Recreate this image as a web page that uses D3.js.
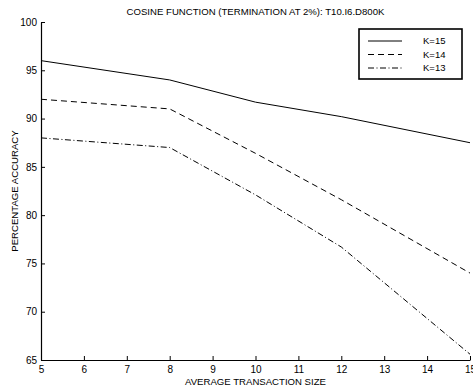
<!DOCTYPE html>
<html>
<head>
<meta charset="utf-8">
<script src="https://cdn.jsdelivr.net/npm/d3@7"></script>
<style>
  body { margin: 0; background: #fff; }
  svg { display: block; font-family: "Liberation Sans", Arial, sans-serif; }
</style>
</head>
<body>
<div id="chart"></div>
<script>
// transaction sizes on the x axis
const sizes = [5, 8, 10, 12, 15];
const k15 = [96.0, 94.0, 91.7, 90.2, 87.5];
const k14 = [92.0, 91.0, 86.4, 81.6, 74.0];
const k13 = [88.0, 87.0, 82.1, 76.7, 65.6];
const seriesNames = ["K=15", "K=14", "K=13"];
const xTicks = [5, 6, 7, 8, 9, 10, 11, 12, 13, 14, 15];
const yTicks = [65, 70, 75, 80, 85, 90, 95, 100];

const width = 473, height = 391;
const margin = { top: 22, right: 3, bottom: 31, left: 41 };

const svg = d3.select("#chart").append("svg")
  .attr("width", width)
  .attr("height", height);

const x = d3.scaleLinear().domain([5, 15]).range([margin.left, width - margin.right]);
const y = d3.scaleLinear().domain([65, 100]).range([height - margin.bottom, margin.top]);

// axes, ticks pointing inward like matlab
svg.append("g")
  .attr("transform", `translate(0,${height - margin.bottom})`)
  .call(d3.axisBottom(x).tickValues(xTicks).tickSize(-4).tickPadding(4).tickSizeOuter(0))
  .call(g => g.selectAll("text").attr("font-size", 10).attr("fill", "#000").attr("dy", "0.9em"));

svg.append("g")
  .attr("transform", `translate(${margin.left},0)`)
  .call(d3.axisLeft(y).tickValues(yTicks).tickSize(-4).tickPadding(4).tickSizeOuter(0))
  .call(g => g.selectAll("text").attr("font-size", 10).attr("fill", "#000"));

svg.selectAll(".domain").attr("stroke", "#000").attr("stroke-width", 1.2);
svg.selectAll(".tick line").attr("stroke", "#000");

// lines
const styles = [
  { data: k15, dash: null },
  { data: k14, dash: "6,4" },
  { data: k13, dash: "6,2.5,1,2.5" }
];

const line = d3.line()
  .x((d, i) => x(sizes[i]))
  .y(d => y(d));

svg.append("g")
  .selectAll("path")
  .data(styles)
  .join("path")
    .attr("fill", "none")
    .attr("stroke", "#000")
    .attr("stroke-width", 1)
    .attr("stroke-dasharray", d => d.dash)
    .attr("d", d => line(d.data));

// title + labels
svg.append("text")
  .attr("x", (margin.left + width - margin.right) / 2)
  .attr("y", 15)
  .attr("text-anchor", "middle")
  .attr("font-size", 9.6)
  .text("COSINE FUNCTION (TERMINATION AT 2%): T10.I6.D800K");

svg.append("text")
  .attr("x", (margin.left + width - margin.right) / 2)
  .attr("y", 385)
  .attr("text-anchor", "middle")
  .attr("font-size", 9.6)
  .text("AVERAGE TRANSACTION SIZE");

svg.append("text")
  .attr("transform", `translate(18,${(margin.top + height - margin.bottom) / 2}) rotate(-90)`)
  .attr("text-anchor", "middle")
  .attr("font-size", 9.6)
  .text("PERCENTAGE ACCURACY");

// legend
const legend = svg.append("g").attr("transform", "translate(359,29)");
legend.append("rect")
  .attr("width", 103).attr("height", 50)
  .attr("fill", "#fff").attr("stroke", "#000").attr("stroke-width", 1.6);

const rows = legend.selectAll("g.row")
  .data(styles)
  .join("g")
    .attr("class", "row")
    .attr("transform", (d, i) => `translate(0,${12 + i * 13.5})`);

rows.append("line")
  .attr("x1", 9).attr("x2", 43)
  .attr("stroke", "#000")
  .attr("stroke-dasharray", d => d.dash);

rows.append("text")
  .attr("x", 64)
  .attr("dy", "0.35em")
  .attr("font-size", 9.5)
  .text((d, i) => seriesNames[i]);
</script>
</body>
</html>
